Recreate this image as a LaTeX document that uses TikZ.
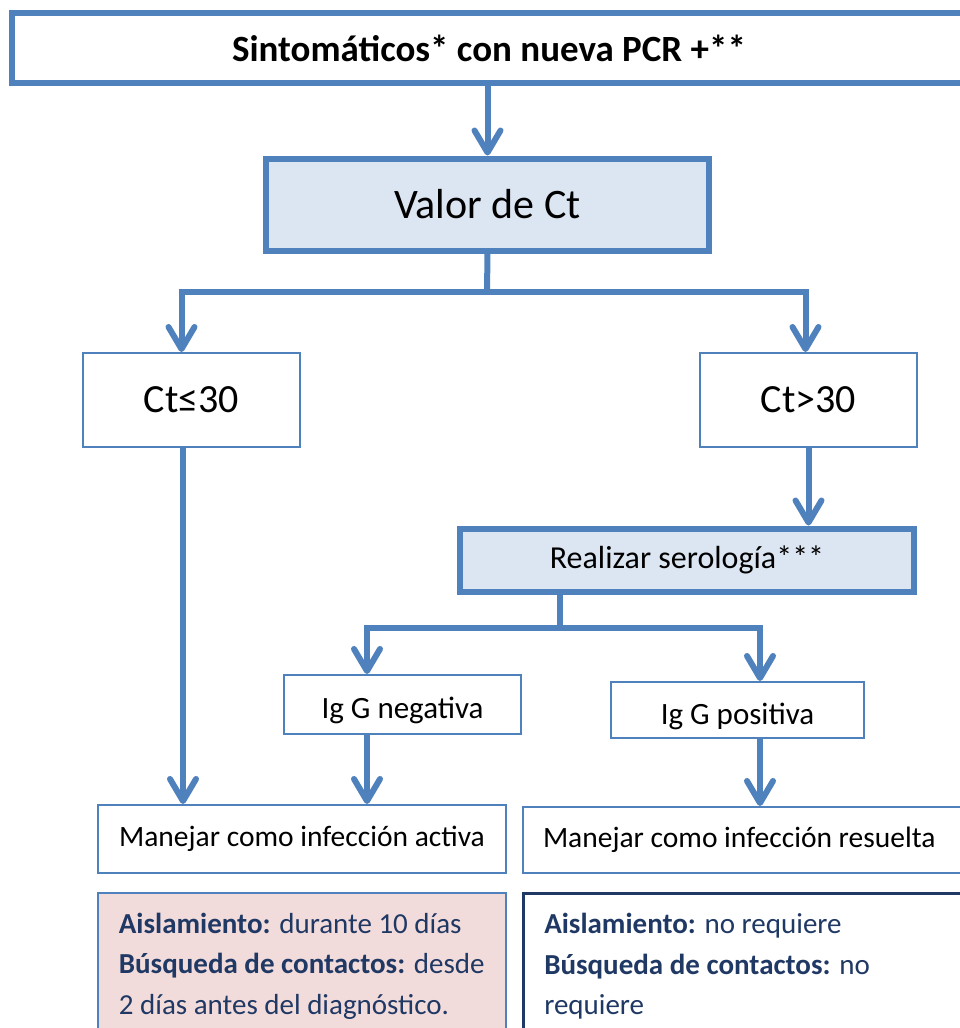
\documentclass[tikz,border=0pt]{standalone}
\usepackage{fontspec}
\setmainfont{Carlito}
\usetikzlibrary{arrows.meta}
\definecolor{acblue}{HTML}{4F81BD}
\definecolor{acfill}{HTML}{DCE6F2}
\definecolor{acpink}{HTML}{F2DCDB}
\definecolor{acnavy}{HTML}{1F3864}
\begin{document}
\begin{tikzpicture}[x=1pt,y=-1pt,
  bigbox/.style={draw=acblue,line width=6pt,fill=acfill,inner sep=0pt},
  smallbox/.style={draw=acblue,line width=2pt,fill=white,inner sep=0pt},
  link/.style={draw=acblue,line width=6pt},
  conn/.style={link,-{Straight Barb[length=22pt,width=26pt,round]}}]
\useasboundingbox (0,0) rectangle (959,1028);
\node[bigbox,fill=white,minimum width=954,minimum height=70,font=\bfseries\fontsize{37}{44}\selectfont] (sint) at (489,48) {Sintomáticos* con nueva PCR +**};
\node[bigbox,minimum width=443,minimum height=92,font=\fontsize{42}{50}\selectfont] (valor) at (487.5,204.5) {Valor de Ct};
\node[smallbox,minimum width=217,minimum height=94,font=\fontsize{40}{48}\selectfont] (ctlow) at (191.5,400) {Ct≤30};
\node[smallbox,minimum width=217,minimum height=94,font=\fontsize{40}{48}\selectfont] (cthigh) at (808.5,400) {Ct>30};
\node[bigbox,minimum width=454,minimum height=63,font=\fontsize{32}{38}\selectfont] (sero) at (687,560) {Realizar serología***};
\node[smallbox,minimum width=237,minimum height=59,font=\fontsize{31}{37}\selectfont] (igneg) at (402.5,704.5) {\raisebox{-13.5pt}[0pt][0pt]{Ig G negativa}};
\node[smallbox,minimum width=253,minimum height=56,font=\fontsize{31}{37}\selectfont] (igpos) at (737.5,710) {\raisebox{-14pt}[0pt][0pt]{Ig G positiva}};
\node[smallbox,anchor=west,minimum width=408,minimum height=68,font=\fontsize{29.5}{35}\selectfont] (activa) at (97,839) {Manejar como infección activa};
\node[smallbox,anchor=west,minimum height=66,text width=420,inner xsep=20,align=flush left,font=\fontsize{29.5}{35}\selectfont] (resuelta) at (522,840) {Manejar como infección resuelta};
%\node[smallbox] (notas) ...
\node[smallbox,fill=acpink,line width=1.5pt,anchor=north west,minimum width=408,inner ysep=20,align=left,text=acnavy,font=\fontsize{29}{40.5}\selectfont] (aislact) at (97,892) {\textbf{Aislamiento:} durante 10 días\\\textbf{Búsqueda de contactos:} desde\\2 días antes del diagnóstico.};
\node[smallbox,draw=acnavy,line width=2.5pt,anchor=north west,text width=400,inner xsep=21,inner ysep=20,align=flush left,text=acnavy,font=\fontsize{29}{40.5}\selectfont] (aislres) at (522,892) {\textbf{Aislamiento:} no requiere\\\textbf{Búsqueda de contactos:} no\\requiere};
\coordinate (split1) at (487,292);
\coordinate (split2) at (560,628);
\coordinate (lowdn) at ([xshift=-8.5]ctlow.south);
\coordinate (negdn) at ([xshift=-35.5]igneg.south);
\coordinate (posdn) at ([xshift=22.5]igpos.south);
\draw[conn] (sint.south -| valor.north) -- (valor.north);
\draw[link] (valor.south) -- (split1);
\draw[conn] (split1) -| ([xshift=-10]ctlow.north);
\draw[conn] (split1) -| ([xshift=-3]cthigh.north);
\draw[conn] (cthigh) -- (cthigh |- sero.north);
\draw[link] (sero.south -| split2) -- (split2);
\draw[conn] (split2) -| ([xshift=-35.5]igneg.north);
\draw[conn] (split2) -| ([xshift=22.5]igpos.north);
\draw[conn] (lowdn) -- (lowdn |- activa.north);
\draw[conn] (negdn) -- (negdn |- activa.north);
\draw[conn] (posdn) -- (posdn |- resuelta.north);
\end{tikzpicture}
\end{document}
